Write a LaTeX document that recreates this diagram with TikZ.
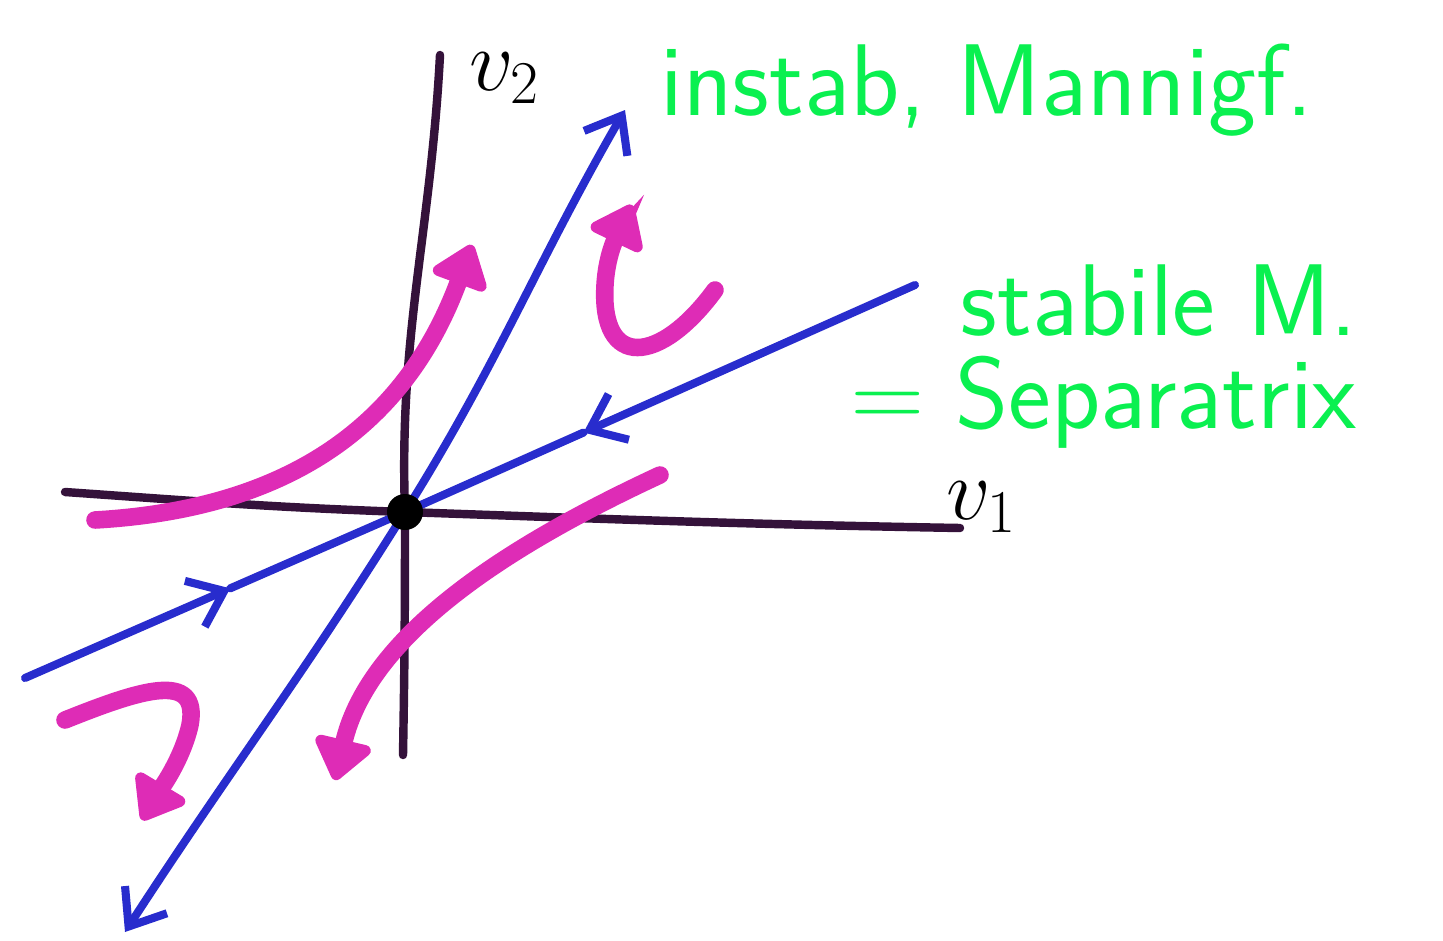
\documentclass[tikz,border=0pt]{standalone}
\usepackage{tikz}
\usetikzlibrary{arrows.meta, calc}
\definecolor{AxisInk}{RGB}{52,18,58}
\definecolor{ManiBlue}{RGB}{40,44,205}
\definecolor{FlowPink}{RGB}{222,44,182}
\definecolor{NoteGreen}{RGB}{10,240,80}

\begin{document}
\begin{tikzpicture}[
        axis/.style={AxisInk,line width=2.4pt,line cap=round},
        mani/.style={ManiBlue,line width=2.3pt,line cap=round},
        flow/.style={FlowPink,line width=5pt,line cap=round,-{Triangle[length=4.5mm,width=6.5mm,round]}},
        note/.style={NoteGreen,font=\sffamily\fontsize{29}{34}\selectfont,inner sep=0pt},
        vlbl/.style={font=\fontsize{26}{30}\selectfont,inner sep=0pt},
        barb/.tip={Straight Barb[length=3.2mm,width=5mm]}]
        \useasboundingbox (0,0) rectangle (14.43,9.40);

        % Achsen
        \coordinate (O) at (4.05,4.28);
        \coordinate (h1) at (0.65,4.48);
        \coordinate (h2) at (9.60,4.12);
        \coordinate (w1) at (4.40,8.85);
        \coordinate (w2) at (4.03,1.85);
        \draw[axis] (h1) to[out=-4,in=178] (O) to[out=-2,in=179] (h2);
        \draw[axis] (w1) to[out=-93,in=92] (O) to[out=-90,in=89] (w2);
        \node[vlbl] (v2) at (5.05,8.62) {$v_2$};
        \node[vlbl] (v1) at (9.82,4.33) {$v_1$};

        % instabile Mannigfaltigkeit
        \coordinate (ubot) at (1.25,0.08);
        \coordinate (utop) at (6.25,8.30);
        \draw[mani,barb-barb] (ubot) to[out=57,in=-122] (O) to[out=58,in=-120] (utop);

        % stabile Mannigfaltigkeit
        \coordinate (sr) at (9.15,6.55);
        \coordinate (sl) at (0.25,2.62);
        \coordinate (srm) at ($(sr)!0.65!(O)$);
        \coordinate (slm) at ($(sl)!0.54!(O)$);
        \draw[mani,-barb] (sr) -- (srm);
        \draw[mani] (srm) -- (O);
        \draw[mani,-barb] (sl) -- (slm);
        \draw[mani] (slm) -- (O);

        % Trajektorien
        \draw[flow] (0.95,4.20) .. controls (2.7,4.30) and (4.0,5.0) .. (4.72,6.95);
        \draw[flow] (6.60,4.65) .. controls (5.2,4.0) and (3.7,3.1) .. (3.35,1.60);
        \draw[flow] (7.15,6.50) .. controls (6.6,5.75) and (6.0,5.7) .. (6.05,6.55)
                    .. controls (6.07,6.9) and (6.2,7.1) .. (6.32,7.35);
        \draw[flow] (0.65,2.20) .. controls (1.4,2.5) and (2.0,2.7) .. (1.90,2.15)
                    .. controls (1.82,1.8) and (1.6,1.5) .. (1.42,1.20);

        \fill[black] (O) circle (0.18);

        % Beschriftung
        \node[note,anchor=base west] (inst) at (6.60,8.25) {instab, Mannigf.};
        \node[note,anchor=base west] (stab) at (9.60,6.05) {stabile M.};
        \node[note,anchor=base west] (sepa) at (8.50,5.12) {=\hspace{0.3em}Separatrix};
      \end{tikzpicture}
\end{document}
